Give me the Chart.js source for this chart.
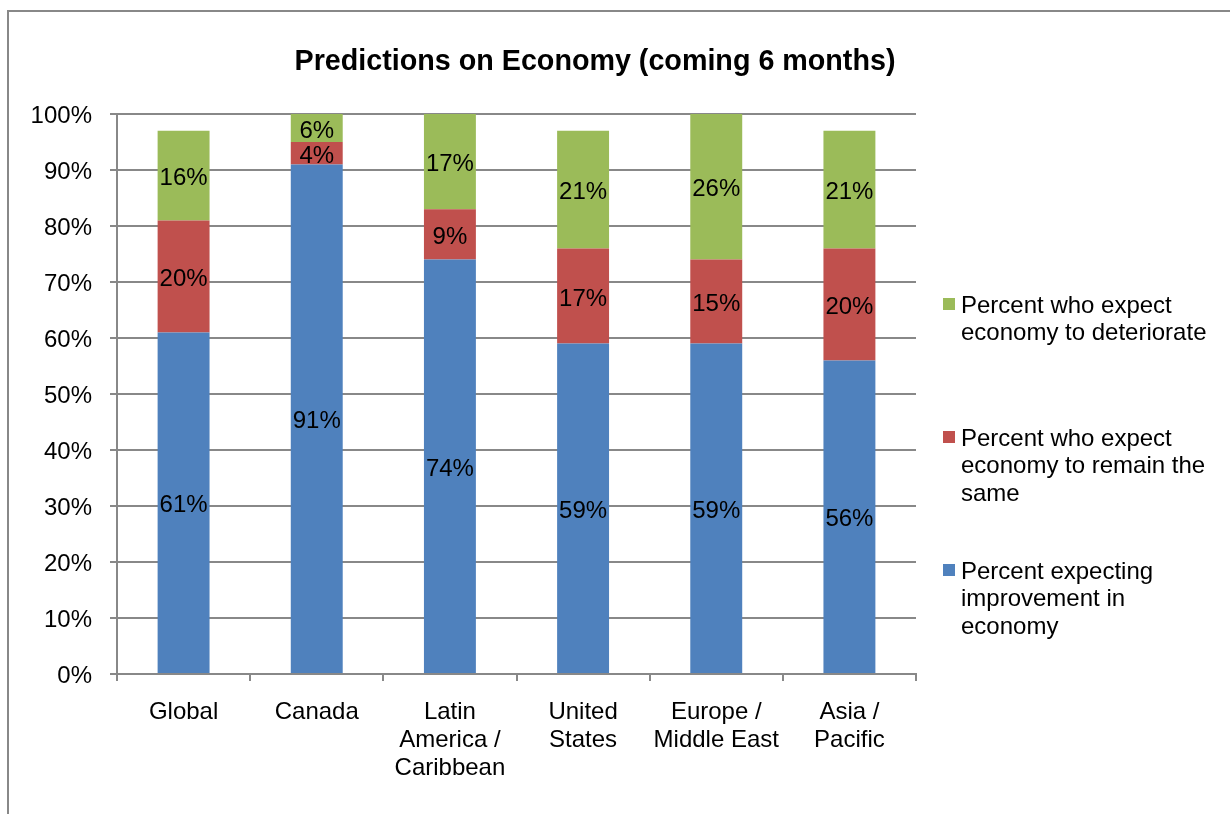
<!DOCTYPE html>
<html>
<head>
<meta charset="utf-8">
<script src="https://cdn.jsdelivr.net/npm/chart.js@4"></script>
<style>
  body { margin: 0; background: #fff; overflow: hidden; }
  #frame { position: absolute; left: 7px; top: 10px; width: 1400px; height: 1000px;
           border-left: 2px solid #888; border-top: 2px solid #888; }
  #chart { position: absolute; left: 0; top: 0; }
</style>
</head>
<body>
<div id="frame"></div>
<canvas id="chart" width="1230" height="814"></canvas>
<script>
// Data
const categories = [['Global'], ['Canada'], ['Latin', 'America /', 'Caribbean'], ['United', 'States'], ['Europe /', 'Middle East'], ['Asia /', 'Pacific']];
const improve = [61, 91, 74, 59, 59, 56];
const same = [20, 4, 9, 17, 15, 20];
const worse = [16, 6, 17, 21, 26, 21];
const yTicks = [0, 10, 20, 30, 40, 50, 60, 70, 80, 90, 100];

const nameImprove = ['Percent expecting', 'improvement in', 'economy'];
const nameSame = ['Percent who expect', 'economy to remain the', 'same'];
const nameWorse = ['Percent who expect', 'economy to deteriorate'];
const chartTitle = 'Predictions on Economy (coming 6 months)';

const FONT = '"Liberation Sans", Arial, sans-serif';
const gridGray = '#888888';

// labels in the middle of each segment
const segmentLabels = {
    id: 'segmentLabels',
    afterDatasetsDraw(chart) {
        const ctx = chart.ctx;
        const area = chart.chartArea;
        ctx.save();
        ctx.font = '24px ' + FONT;
        ctx.fillStyle = '#000';
        ctx.textAlign = 'center';
        ctx.textBaseline = 'middle';
        chart.data.datasets.forEach((ds, i) => {
            chart.getDatasetMeta(i).data.forEach((bar, j) => {
                const top = Math.max(Math.min(bar.y, bar.base), area.top);
                const bottom = Math.min(Math.max(bar.y, bar.base), area.bottom);
                ctx.fillText(ds.data[j] + '%', bar.x, (top + bottom) / 2 + 3);
            });
        });
        ctx.restore();
    }
};

// title + legend on the right
const titleAndLegend = {
    id: 'titleAndLegend',
    afterDraw(chart) {
        const ctx = chart.ctx;
        ctx.save();
        ctx.fillStyle = '#000';
        ctx.font = 'bold 28.7px ' + FONT;
        ctx.textAlign = 'center';
        ctx.textBaseline = 'alphabetic';
        ctx.fillText(chartTitle, 595, 70);

        ctx.font = '24px ' + FONT;
        ctx.textAlign = 'left';
        ctx.textBaseline = 'middle';
        const items = [
            { lines: nameWorse, color: chart.data.datasets[2].backgroundColor, y: 304 },
            { lines: nameSame, color: chart.data.datasets[1].backgroundColor, y: 437 },
            { lines: nameImprove, color: chart.data.datasets[0].backgroundColor, y: 570 }
        ];
        items.forEach(it => {
            ctx.fillStyle = it.color;
            ctx.fillRect(943, it.y - 6, 12, 12);
            ctx.fillStyle = '#000';
            it.lines.forEach((ln, k) => ctx.fillText(ln, 961, it.y + 2 + k * 27.5));
        });
        ctx.restore();
    }
};

new Chart(document.getElementById('chart'), {
    type: 'bar',
    data: {
        labels: categories,
        datasets: [
            { label: nameImprove.join(' '), data: improve, backgroundColor: '#4F81BD' },
            { label: nameSame.join(' '), data: same, backgroundColor: '#C0504D' },
            { label: nameWorse.join(' '), data: worse, backgroundColor: '#9BBB59' }
        ]
    },
    options: {
        responsive: false,
        animation: false,
        events: [],
        layout: { padding: { left: 0, top: 114, right: 314, bottom: 0 } },
        datasets: { bar: { barPercentage: 0.39, categoryPercentage: 1, clip: 0 } },
        plugins: { legend: { display: false }, title: { display: false }, tooltip: { enabled: false } },
        scales: {
            x: {
                stacked: true,
                afterFit: s => { s.height = 140; },
                grid: { offset: true, drawOnChartArea: false, drawTicks: true, tickLength: 7, color: gridGray, lineWidth: 2 },
                border: { color: gridGray, width: 2 },
                ticks: { color: '#000', font: { family: FONT, size: 24, lineHeight: 1.15 }, padding: 18, maxRotation: 0, autoSkip: false }
            },
            y: {
                stacked: true,
                min: 0,
                max: 100,
                afterFit: s => { s.width = 117; },
                afterBuildTicks: s => { s.ticks = yTicks.map(v => ({ value: v })); },
                grid: { color: gridGray, lineWidth: 2, tickLength: 7 },
                border: { color: gridGray, width: 2 },
                ticks: { color: '#000', font: { family: FONT, size: 24 }, padding: 18, labelOffset: 2, callback: v => v + '%' }
            }
        }
    },
    plugins: [segmentLabels, titleAndLegend]
});
</script>
</body>
</html>
